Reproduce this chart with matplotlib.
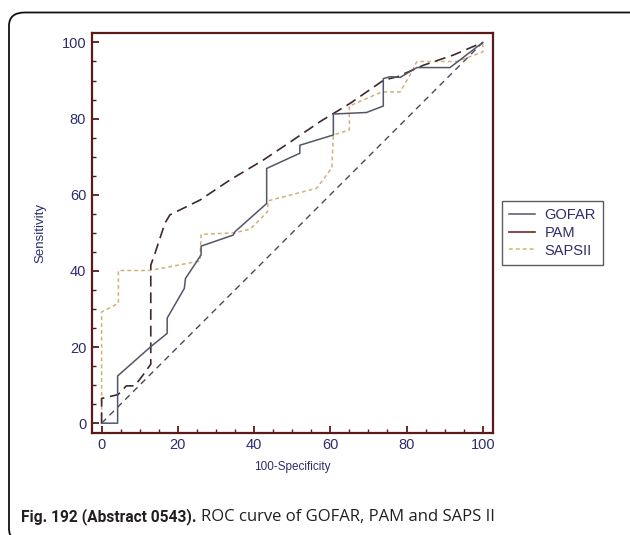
import matplotlib
matplotlib.use("Agg")
import matplotlib.pyplot as plt
from matplotlib.patches import FancyBboxPatch
from matplotlib.ticker import MultipleLocator

# ========== Data ==========
gofar_x = [0, 4.2, 4.2, 12.9, 17.2, 17.2, 21.7, 22, 26.1, 26.1, 34.5, 35, 43.3, 43.3,
           52, 52, 60.8, 60.8, 69.5, 73.9, 73.9, 75.7, 78.3, 82.7, 91.4, 100]
gofar_y = [0, 0, 12.4, 20.1, 23.6, 27.6, 35.4, 38, 44.2, 46.5, 49.4, 50.3, 57.7, 66.9,
           70.9, 73, 75.7, 81.2, 81.6, 83.3, 90.5, 91, 90.8, 93.4, 93.4, 100]

pam_x = [0, 0, 4.3, 6.5, 8.7, 10.9, 12.9, 12.9, 14, 16.6, 17.9, 25.8, 33.7, 42.4,
         50.3, 57.3, 65.2, 74, 77.6, 84.4, 92.3, 100]
pam_y = [0, 6.5, 7.5, 9.8, 9.8, 12.7, 15.5, 41.5, 44.6, 52.5, 54.7, 58.6, 63.9, 69.1,
         74.4, 79.2, 84, 90.1, 91, 94, 96.7, 100]

saps_x = [0, 0, 4.4, 4.4, 12.7, 25.8, 26.1, 35, 39, 43.5, 43.7, 56.4, 60.4, 60.8,
          65, 65, 73.5, 78.3, 80.9, 82.7, 93.2, 100, 100]
saps_y = [0, 29.2, 31.5, 40.1, 40.1, 42.6, 49.6, 50, 51, 55.5, 58.4, 61.7, 67, 75.7,
          77, 83.3, 87, 87, 91.4, 95, 95, 97.5, 100]

ref_x = [0, 100]
ref_y = [0, 100]

SPINE = "#5a1a1a"
NAVY = "#2d2d6e"

fig = plt.figure(figsize=(6.3, 5.35), dpi=100)

# outer rounded frame of the figure panel
frame = FancyBboxPatch((9 / 630, 1 - 542 / 535), 640 / 630, (542 - 12.5) / 535,
                       boxstyle="round,pad=0,rounding_size=0.025",
                       transform=fig.transFigure, fill=False,
                       edgecolor="#111111", linewidth=1.3, clip_on=False)
fig.patches.append(frame)

ax = fig.add_axes([91.7 / 630, 1 - 432.7 / 535, (492.7 - 91.7) / 630, (432.7 - 33.3) / 535])

ax.plot(ref_x, ref_y, color="#4a4a55", lw=1.0, dashes=(4.5, 3.5))
ax.plot(saps_x, saps_y, color="#d2b07a", lw=1.1, dashes=(2.5, 2.0), label="SAPSII")
ax.plot(pam_x, pam_y, color="#3e2a2c", lw=1.2, dashes=(6.5, 3.5), label="PAM")
ax.plot(gofar_x, gofar_y, color="#525668", lw=1.1, label="GOFAR")

ax.set_xlim(-2.6, 102.6)
ax.set_ylim(-2.5, 102.4)
ax.xaxis.set_major_locator(MultipleLocator(20))
ax.yaxis.set_major_locator(MultipleLocator(20))
ax.xaxis.set_minor_locator(MultipleLocator(5))
ax.yaxis.set_minor_locator(MultipleLocator(5))

for s in ax.spines.values():
    s.set_color(SPINE)
    s.set_linewidth(1.6)

ax.tick_params(which="both", direction="in", color=SPINE, top=False, right=False)
ax.tick_params(which="major", length=5, width=1.3, labelsize=10.5, labelcolor=NAVY, pad=4)
ax.tick_params(which="minor", length=3, width=1.0)
for lab in ax.get_xticklabels() + ax.get_yticklabels():
    lab.set_family("Liberation Sans")

ax.set_xlabel("100-Specificity", fontsize=8.5, color=NAVY, family="Liberation Sans", labelpad=6)
ax.set_ylabel("Sensitivity", fontsize=9.5, color=NAVY, family="Liberation Sans", labelpad=11)

handles, labels = ax.get_legend_handles_labels()
order = [2, 1, 0]
leg = fig.legend([handles[i] for i in order], [labels[i] for i in order],
                 loc="upper left", bbox_to_anchor=(501.7 / 630, 1 - 201 / 535),
                 frameon=True, fancybox=False, edgecolor="#333333",
                 prop={"family": "Liberation Sans", "size": 10.5},
                 handlelength=1.75, handletextpad=0.7, labelspacing=0.25,
                 borderpad=0.5, borderaxespad=0)
leg.get_frame().set_linewidth(1.0)
for t in leg.get_texts():
    t.set_color(NAVY)
leg.legend_handles[1].set_color("#6b2a2a")
leg.legend_handles[1].set_linestyle("-")

# caption: bold lead, then regular text right after it
fig.canvas.draw()
renderer = fig.canvas.get_renderer()
bold = fig.text(21.5 / 630, 1 - 517 / 535, "Fig. 192 (Abstract 0543).", fontsize=11.2,
                fontweight="bold", family="Roboto", color="#231f20", va="center")
bb = bold.get_window_extent(renderer=renderer)
fig.text(bb.x1 / 630 + 4 / 630, 1 - 517 / 535, "ROC curve of GOFAR, PAM and SAPS II",
         fontsize=12, family="Open Sans", color="#231f20", va="center")

fig.savefig("out.png", dpi=100)
